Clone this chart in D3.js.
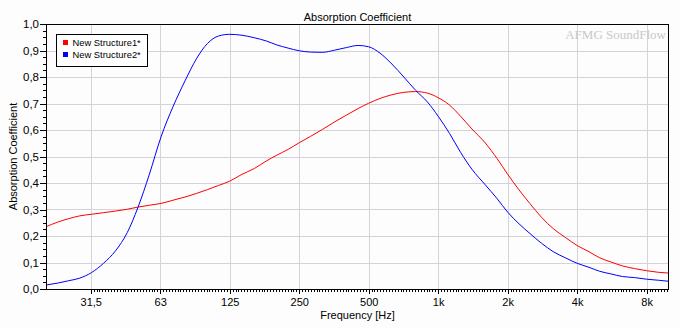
<!DOCTYPE html>
<html>
<head>
<meta charset="utf-8">
<script src="https://cdn.jsdelivr.net/npm/d3@7/dist/d3.min.js"></script>
<style>
  html, body { margin: 0; padding: 0; background: #fcfdfc; }
  svg { display: block; }
  text { fill: #000; }
</style>
</head>
<body>
<svg id="chart" width="680" height="329"></svg>
<script>
// Frequencies in Hz (1/6-octave preferred numbers)
const frequencies = [20, 22.4, 25, 28, 31.5, 35.5, 40, 45, 50, 56, 63, 71, 80, 90, 100, 112, 125, 140,
  160, 180, 200, 224, 250, 280, 315, 355, 400, 450, 500, 560, 630, 710, 800, 900, 1000, 1120, 1250,
  1400, 1600, 1800, 2000, 2240, 2500, 2800, 3150, 3550, 4000, 4500, 5000, 5600, 6300, 7100, 8000,
  9000, 10000];

// Absorption coefficient of each structure at those frequencies
const structure1 = [0.235, 0.252, 0.265, 0.276, 0.282, 0.288, 0.294, 0.301, 0.309, 0.316, 0.323,
  0.335, 0.347, 0.361, 0.375, 0.391, 0.407, 0.431, 0.455, 0.483, 0.505, 0.527, 0.552, 0.576, 0.602,
  0.630, 0.656, 0.681, 0.701, 0.719, 0.733, 0.742, 0.745, 0.739, 0.722, 0.694, 0.652, 0.604, 0.551,
  0.492, 0.433, 0.374, 0.322, 0.271, 0.228, 0.195, 0.164, 0.141, 0.118, 0.102, 0.087, 0.077, 0.069,
  0.063, 0.060];

const structure2 = [0.015, 0.022, 0.031, 0.041, 0.062, 0.097, 0.144, 0.213, 0.307, 0.431, 0.574,
  0.688, 0.785, 0.871, 0.926, 0.955, 0.961, 0.958, 0.948, 0.936, 0.921, 0.909, 0.899, 0.894, 0.893,
  0.901, 0.911, 0.919, 0.914, 0.890, 0.849, 0.800, 0.749, 0.705, 0.652, 0.587, 0.516, 0.452, 0.393,
  0.341, 0.290, 0.246, 0.209, 0.173, 0.141, 0.118, 0.097, 0.082, 0.067, 0.057, 0.047, 0.043, 0.037,
  0.033, 0.029];

const seriesNames = ["New Structure1*", "New Structure2*"];
const seriesColors = ["#ff0000", "#0000ff"];

// Octave ticks on the frequency axis
const xTickValues = [31.25, 62.5, 125, 250, 500, 1000, 2000, 4000, 8000];
const xTickLabels = ["31,5", "63", "125", "250", "500", "1k", "2k", "4k", "8k"];
const yTickValues = [0, 0.1, 0.2, 0.3, 0.4, 0.5, 0.6, 0.7, 0.8, 0.9, 1.0];

const sans = "Liberation Sans, Arial, sans-serif";
const serif = "Liberation Serif, Times New Roman, serif";

const svg = d3.select("#chart");
const plot = { left: 46, top: 24, right: 669, bottom: 289 };

const x = d3.scaleLog().domain([20, 10000]).range([plot.left, plot.right]);
const y = d3.scaleLinear().domain([0, 1]).range([plot.bottom, plot.top]);

const commaLocale = d3.formatLocale({ decimal: ",", thousands: ".", grouping: [3], currency: ["", ""] });
const yFormat = commaLocale.format(".1f");

// Plot background
svg.append("rect")
  .attr("x", plot.left).attr("y", plot.top)
  .attr("width", plot.right - plot.left).attr("height", plot.bottom - plot.top)
  .attr("fill", "#fcfdfc");

// Grid lines
const grid = svg.append("g").attr("shape-rendering", "crispEdges");
grid.selectAll("line.gx").data(xTickValues).join("line")
  .attr("x1", d => Math.round(x(d)) + 0.5).attr("x2", d => Math.round(x(d)) + 0.5)
  .attr("y1", plot.top).attr("y2", plot.bottom)
  .attr("stroke", "#d5d2da").attr("stroke-width", 1);
grid.selectAll("line.gy").data(yTickValues.slice(1, -1)).join("line")
  .attr("x1", plot.left).attr("x2", plot.right)
  .attr("y1", d => Math.round(y(d)) + 0.5).attr("y2", d => Math.round(y(d)) + 0.5)
  .attr("stroke", "#d5d2da").attr("stroke-width", 1);

// Curves
const line = d3.line()
  .x(d => x(d[0]))
  .y(d => y(d[1]))
  .curve(d3.curveMonotoneX);

[structure1, structure2].forEach((vals, i) => {
  svg.append("path")
    .datum(frequencies.map((f, j) => [f, vals[j]]))
    .attr("fill", "none")
    .attr("stroke", seriesColors[i])
    .attr("stroke-width", 1)
    .attr("d", line);
});

// Plot frame
svg.append("rect")
  .attr("x", plot.left + 0.5).attr("y", plot.top + 0.5)
  .attr("width", plot.right - plot.left - 1).attr("height", plot.bottom - plot.top)
  .attr("fill", "none").attr("stroke", "#000").attr("stroke-width", 1)
  .attr("shape-rendering", "crispEdges");

// Minor ticks: 1/24 octave on x, 0.025 on y
const xMinor = d3.range(-120, 100).map(k => 1000 * Math.pow(2, k / 24))
  .filter(f => f >= 20 && f <= 10000);
const yMinor = d3.range(0, 41).map(k => k * 0.025);

svg.append("g")
  .attr("transform", `translate(0,${plot.bottom})`)
  .attr("shape-rendering", "crispEdges")
  .call(d3.axisBottom(x).tickValues(xMinor).tickFormat("").tickSize(3).tickSizeOuter(0))
  .call(g => g.select(".domain").remove());

svg.append("g")
  .attr("transform", `translate(${plot.left},0)`)
  .attr("shape-rendering", "crispEdges")
  .call(d3.axisLeft(y).tickValues(yMinor).tickFormat("").tickSize(3).tickSizeOuter(0))
  .call(g => g.select(".domain").remove());

// Major axes
const xAxis = svg.append("g")
  .attr("transform", `translate(0,${plot.bottom})`)
  .attr("shape-rendering", "crispEdges")
  .call(d3.axisBottom(x).tickValues(xTickValues)
    .tickFormat((d, i) => xTickLabels[i]).tickSize(5).tickPadding(4).tickSizeOuter(0));
xAxis.select(".domain").remove();
xAxis.selectAll("text").style("font-size", "11px").style("font-family", sans);

const yAxis = svg.append("g")
  .attr("transform", `translate(${plot.left},0)`)
  .attr("shape-rendering", "crispEdges")
  .call(d3.axisLeft(y).tickValues(yTickValues).tickFormat(yFormat).tickSize(6).tickPadding(1).tickSizeOuter(0));
yAxis.select(".domain").remove();
yAxis.selectAll("text").style("font-size", "11.5px").style("font-family", sans);

// Titles
svg.append("text")
  .attr("x", (plot.left + plot.right) / 2).attr("y", 20.5)
  .attr("text-anchor", "middle")
  .style("font-family", sans).style("font-size", "11px")
  .text("Absorption Coefficient");

svg.append("text")
  .attr("x", (plot.left + plot.right) / 2).attr("y", 319)
  .attr("text-anchor", "middle")
  .style("font-family", sans).style("font-size", "11px")
  .text("Frequency [Hz]");

svg.append("text")
  .attr("transform", `translate(17,${(plot.top + plot.bottom) / 2}) rotate(-90)`)
  .attr("text-anchor", "middle")
  .style("font-family", sans).style("font-size", "11px")
  .text("Absorption Coefficient");

// Watermark
svg.append("text")
  .attr("x", 666).attr("y", 38.5)
  .attr("text-anchor", "end")
  .style("font-family", serif)
  .style("font-size", "13px")
  .style("fill", "#c9c9c9")
  .text("AFMG SoundFlow");

// Legend
const legend = svg.append("g");
legend.append("rect")
  .attr("x", 56.5).attr("y", 34.5).attr("width", 91).attr("height", 32)
  .attr("fill", "#ffffff").attr("stroke", "#000").attr("stroke-width", 1)
  .attr("shape-rendering", "crispEdges");
seriesNames.forEach((name, i) => {
  const rowY = 40 + i * 12.3;
  legend.append("rect")
    .attr("x", 63).attr("y", rowY).attr("width", 5).attr("height", 5)
    .attr("fill", seriesColors[i]).attr("shape-rendering", "crispEdges");
  legend.append("text")
    .attr("x", 72.5).attr("y", rowY + 6)
    .style("font-family", sans).style("font-size", "9.4px")
    .text(name);
});
</script>
</body>
</html>
